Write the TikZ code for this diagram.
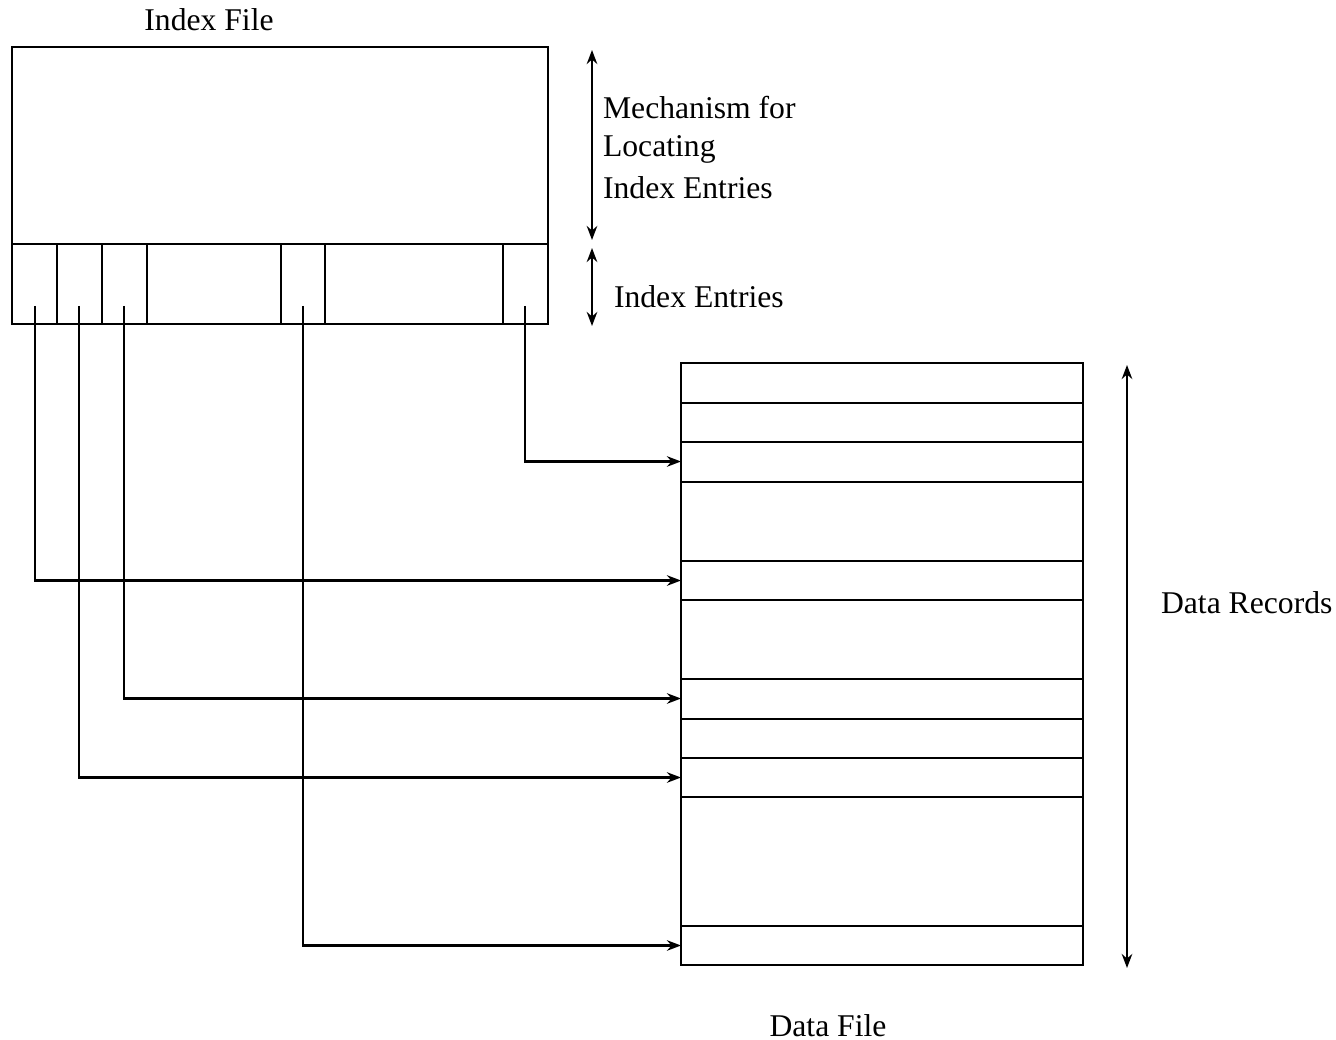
\documentclass[tikz,border=0pt]{standalone}
\usepackage{fontspec}
\setmainfont{Liberation Serif}
\usetikzlibrary{arrows.meta}
\begin{document}
\begin{tikzpicture}[x=0.01cm,y=-0.01cm,
  every path/.style={line width=0.6pt},
  conn/.style={-{Stealth[length=4pt,width=3pt]}},
  dim/.style={{Stealth[length=4pt,width=3pt]}-{Stealth[length=4pt,width=3pt]}},
  lbl/.style={font=\fontsize{9}{11}\selectfont, inner sep=0pt},
  rowbox/.style={minimum width=4.02cm, minimum height=0.39cm, inner sep=0pt, outer sep=0pt, anchor=north west}]
\useasboundingbox (0,0) rectangle (1336,1040);
% Index file
\node[lbl] (ifile) at (209,20) {Index File};
\draw (12,47) rectangle (548,324);
\draw (12,244) -- (548,244);
\foreach \x in {57,102,147,281,325,503} \draw (\x,244) -- (\x,324);
\coordinate (p1) at (35,306);
\coordinate (p2) at (79,306);
\coordinate (p3) at (124,306);
\coordinate (p4) at (303,306);
\coordinate (p5) at (525,306);
% dimension arrows
\coordinate (m1) at (592,50);
\coordinate (m2) at (592,240);
\coordinate (m3) at (592,248);
\coordinate (m4) at (592,326);
\draw[dim] (m1) -- (m2);
\draw[dim] (m3) -- (m4);
\node[lbl, anchor=west] (mech1) at (602,108) {Mechanism for};
\node[lbl, anchor=west] (mech2) at (602,149) {Locating};
\node[lbl, anchor=west] (mech3) at (602,188) {Index Entries};
\node[lbl, anchor=west] (ient) at (613,297) {Index Entries};
% Data file
\draw (681,363) rectangle (1083,965);
\foreach \y in {403,442,482,561,600,679,719,758,797,926} \draw (681,\y) -- (1083,\y);
\node[rowbox] (d1) at (681,442) {};
\node[rowbox] (d2) at (681,561) {};
\node[rowbox] (d3) at (681,679) {};
\node[rowbox] (d4) at (681,758) {};
\node[rowbox] (d5) at (681,926) {};
\coordinate (r1) at (1127,365);
\coordinate (r2) at (1127,968);
\draw[dim] (r1) -- (r2);
\node[lbl, anchor=west] (drec) at (1160,603) {Data Records};
\node[lbl] (dfile) at (828,1026) {Data File};
% pointers
\draw[conn] (p5) |- (d1.west);
\draw[conn] (p1) |- (d2.west);
\draw[conn] (p3) |- (d3.west);
\draw[conn] (p2) |- (d4.west);
\draw[conn] (p4) |- (d5.west);
\end{tikzpicture}
\end{document}
